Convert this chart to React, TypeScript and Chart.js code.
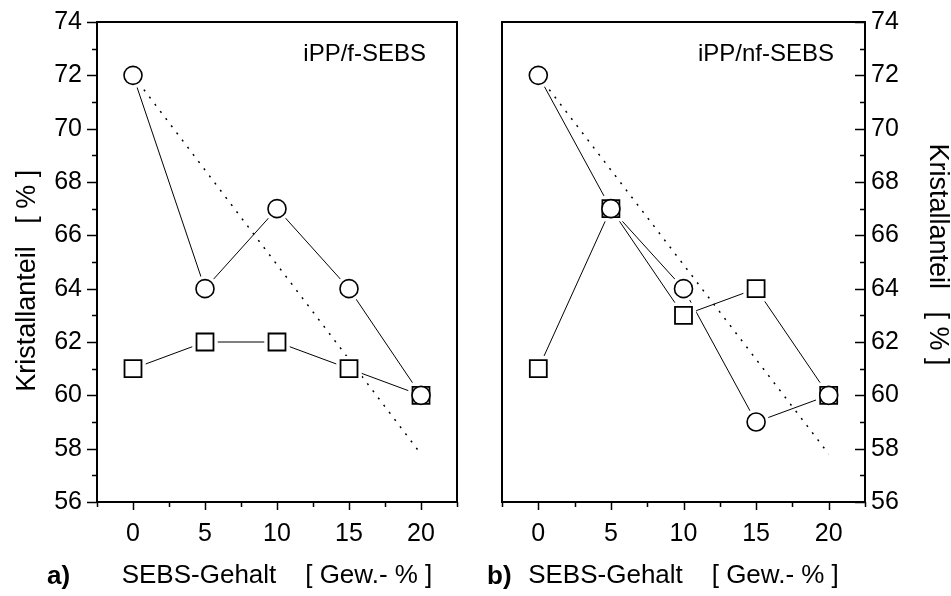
import React, { useEffect, useRef } from 'react';
import { Chart, registerables } from 'chart.js';

Chart.register(...registerables);

// ---- data ----
const xValues = [0, 5, 10, 15, 20];
const xMajorTicks = [0, 5, 10, 15, 20];
const xMinorTicks = [-2.5, 2.5, 7.5, 12.5, 17.5, 22.5];
const yMajorTicks = [56, 58, 60, 62, 64, 66, 68, 70, 72, 74];
const yMinorTicks = [57, 59, 61, 63, 65, 67, 69, 71, 73];

const fCircles = [72, 64, 67, 64, 60];
const fSquares = [61, 62, 62, 61, 60];
const nfCircles = [72, 67, 64, 59, 60];
const nfSquares = [61, 67, 63, 64, 60];
const refLineX = [0, 20];
const refLineY = [72, 57.8];

const xTitle = 'SEBS-Gehalt    [ Gew.- % ]';
const yTitleLeft = 'Kristallanteil   [ % ]     ';
const yTitleRight = 'Kristallanteil   [ % ]  ';
const panelTexts = ['iPP/f-SEBS', 'iPP/nf-SEBS'];
const panelLetters = ['a)', 'b)'];

const FAMILY = "'Liberation Sans', Arial, sans-serif";

type PanelCfg = {
  circles: number[];
  squares: number[];
  side: 'left' | 'right';
  text: string;
  letter: string;
  width: number;
};

const pts = (ys: number[]) => xValues.map((x, i) => ({ x, y: ys[i] }));

function makeConfig(p: PanelCfg): any {
  const decor = {
    id: 'decor',
    afterDraw(chart: any) {
      const { ctx, chartArea: a, scales } = chart;
      const xs = scales.x;
      const ys = scales.y;
      ctx.save();
      ctx.strokeStyle = '#000';
      ctx.lineWidth = 1.5;
      ctx.beginPath();
      const xt = (vals: number[], len: number) => {
        for (const v of vals) {
          const px = Math.round(xs.getPixelForValue(v)) + 0.5;
          ctx.moveTo(px, a.bottom);
          ctx.lineTo(px, a.bottom + len);
        }
      };
      const yt = (vals: number[], len: number) => {
        for (const v of vals) {
          const py = Math.round(ys.getPixelForValue(v)) + 0.5;
          if (p.side === 'left') {
            ctx.moveTo(a.left, py);
            ctx.lineTo(a.left - len, py);
          } else {
            ctx.moveTo(a.right, py);
            ctx.lineTo(a.right - len, py);
          }
        }
      };
      xt(xMajorTicks, 8);
      xt(xMinorTicks, 5);
      yt(yMajorTicks, 10);
      yt(yMinorTicks, 5);
      ctx.stroke();
      ctx.lineWidth = 2;
      ctx.strokeRect(a.left, a.top, a.right - a.left, a.bottom - a.top);

      ctx.fillStyle = '#000';
      ctx.font = `24px ${FAMILY}`;
      ctx.textAlign = 'right';
      ctx.textBaseline = 'middle';
      ctx.fillText(p.text, a.right - 31, a.top + 32);

      ctx.font = `bold 26px ${FAMILY}`;
      ctx.textAlign = 'left';
      ctx.textBaseline = 'alphabetic';
      ctx.fillText(p.letter, p.side === 'left' ? a.left - 50 : a.left - 15, a.bottom + 82);
      ctx.restore();
    },
  };

  const tickFont = { family: FAMILY, size: 25 };

  return {
    type: 'scatter',
    data: {
      datasets: [
        {
          data: refLineX.map((x, i) => ({ x, y: refLineY[i] })),
          showLine: true,
          borderColor: '#000',
          borderWidth: 1.5,
          borderDash: [2, 7],
          pointRadius: 0,
          order: 4,
        },
        {
          data: pts(p.circles),
          showLine: true,
          borderColor: '#000',
          borderWidth: 1,
          pointRadius: 0,
          order: 3,
        },
        {
          data: pts(p.squares),
          showLine: true,
          borderColor: '#000',
          borderWidth: 1,
          pointRadius: 0,
          order: 3,
        },
        {
          data: pts(p.circles),
          showLine: false,
          pointRadius: 13,
          pointBackgroundColor: '#fff',
          pointBorderColor: '#fff',
          pointBorderWidth: 0,
          order: 2,
        },
        {
          data: pts(p.squares),
          showLine: false,
          pointStyle: 'rect',
          pointRadius: 18,
          pointBackgroundColor: '#fff',
          pointBorderColor: '#fff',
          pointBorderWidth: 0,
          order: 2,
        },
        {
          data: pts(p.squares),
          showLine: false,
          pointStyle: 'rect',
          pointRadius: 12,
          pointBackgroundColor: '#fff',
          pointBorderColor: '#000',
          pointBorderWidth: 1.8,
          order: 1,
        },
        {
          data: pts(p.circles),
          showLine: false,
          pointRadius: 9,
          pointBackgroundColor: '#fff',
          pointBorderColor: '#000',
          pointBorderWidth: 1.6,
          order: 0,
        },
      ],
    },
    options: {
      animation: false,
      responsive: false,
      devicePixelRatio: 1,
      layout: {
        padding: p.side === 'left'
          ? { left: 0, right: 16, top: 22, bottom: 0 }
          : { left: 27, right: 0, top: 22, bottom: 0 },
      },
      plugins: { legend: { display: false }, tooltip: { enabled: false } },
      scales: {
        x: {
          type: 'linear',
          min: -2.5,
          max: 22.5,
          afterBuildTicks: (s: any) => {
            s.ticks = xMajorTicks.map((v) => ({ value: v }));
          },
          afterFit: (s: any) => {
            s.height = 94;
            s.paddingLeft = 0;
            s.paddingRight = 0;
          },
          grid: { display: false, drawTicks: false },
          border: { display: false },
          ticks: { padding: 17, font: tickFont, color: '#000', maxRotation: 0, autoSkip: false },
          title: {
            display: true,
            text: xTitle,
            color: '#000',
            font: { family: FAMILY, size: 26, lineHeight: 1.2 },
            padding: { top: 0, bottom: 5 },
          },
        },
        y: {
          type: 'linear',
          position: p.side,
          min: 56,
          max: 74,
          afterBuildTicks: (s: any) => {
            s.ticks = yMajorTicks.map((v) => ({ value: v }));
          },
          afterFit: (s: any) => {
            s.width = p.side === 'left' ? 97 : 86;
            s.paddingTop = 0;
            s.paddingBottom = 0;
          },
          grid: { display: false, drawTicks: false },
          border: { display: false },
          ticks: { padding: p.side === 'left' ? 15 : 6, font: tickFont, color: '#000', autoSkip: false },
          title: {
            display: true,
            text: p.side === 'left' ? yTitleLeft : yTitleRight,
            color: '#000',
            font: { family: FAMILY, size: 27, lineHeight: 1.0 },
            padding: { top: p.side === 'left' ? 14 : 0, bottom: 0 },
          },
        },
      },
    },
    plugins: [decor],
  };
}

function Panel(props: PanelCfg) {
  const ref = useRef<HTMLCanvasElement | null>(null);
  useEffect(() => {
    if (!ref.current) return;
    const chart = new Chart(ref.current, makeConfig(props));
    return () => chart.destroy();
  }, []);
  return (
    <canvas
      ref={ref}
      width={props.width}
      height={596}
      style={{ display: 'block', width: props.width, height: 596 }}
    />
  );
}

export default function App() {
  return (
    <div
      style={{
        position: 'absolute',
        left: 0,
        top: 0,
        width: 951,
        height: 596,
        background: '#fff',
        display: 'flex',
      }}
    >
      <Panel circles={fCircles} squares={fSquares} side="left" text={panelTexts[0]} letter={panelLetters[0]} width={475} />
      <Panel circles={nfCircles} squares={nfSquares} side="right" text={panelTexts[1]} letter={panelLetters[1]} width={476} />
    </div>
  );
}
